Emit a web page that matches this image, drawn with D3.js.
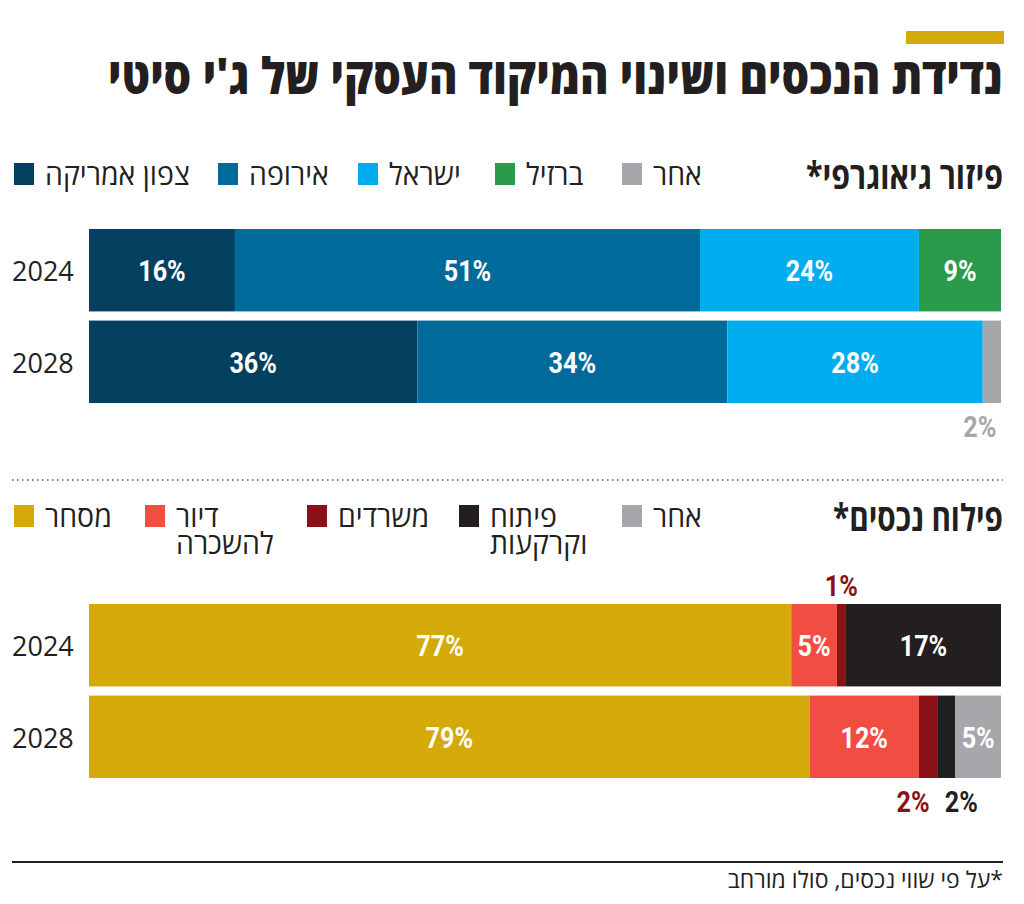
<!DOCTYPE html>
<html lang="he">
<head>
<meta charset="utf-8">
<script src="https://cdn.jsdelivr.net/npm/d3@7"></script>
<style>
  html, body { margin: 0; padding: 0; background: #fff; }
  svg { display: block; }
  .heb { font-family: "Open Sans", "Noto Sans", "DejaVu Sans", sans-serif; }
  .num { font-family: "Roboto", "Liberation Sans", sans-serif; font-weight: bold; }
</style>
</head>
<body>
<svg id="chart" width="1024" height="904"></svg>
<script>
// ---- Data ----
const years = ["2024", "2028"];

const geoCategories = ["צפון אמריקה", "אירופה", "ישראל", "ברזיל", "אחר"];
const geoColors = ["#033f5e", "#006b9b", "#00adee", "#2a9a4b", "#a6a7ab"];
const geo2024 = [16, 51, 24, 9, 0];
const geo2028 = [36, 34, 28, 0, 2];

const assetCategories = ["מסחר", "דיור\nלהשכרה", "משרדים", "פיתוח\nוקרקעות", "אחר"];
const assetColors = ["#d4a90a", "#f24d42", "#8c1116", "#231f20", "#a6a7ab"];
const asset2024 = [77, 5, 1, 17, 0];
const asset2028 = [79, 12, 2, 2, 5];

const title = "נדידת הנכסים ושינוי המיקוד העסקי של ג'י סיטי";
const geoHeading = "פיזור גיאוגרפי*";
const assetHeading = "פילוח נכסים*";
const footnote = "*על פי שווי נכסים, סולו מורחב";

// ---- Layout ----
const svg = d3.select("#chart");
const x = d3.scaleLinear().domain([0, 100]).range([89, 1001]);
const INK = "#231f20";
const RLM = "\u200F";

// condensed text helper: horizontal squeeze around anchor
function ctext(parent, px, py, str, opt) {
  const g = parent.append("g");
  const t = g.append("text").attr("class", opt.cls)
    .attr("font-size", opt.size).attr("fill", opt.fill || INK)
    .attr("text-anchor", opt.anchor || "start");
  if (opt.weight) t.attr("font-weight", opt.weight);
  const lines = String(str).split("\n");
  if (lines.length === 1) t.text(str);
  else lines.forEach((ln, k) => t.append("tspan").attr("x", 0).attr("dy", k ? opt.lh : 0).text(ln));
  let sx = opt.sx || 1;
  if (opt.fit) sx = opt.fit / t.node().getComputedTextLength();
  g.attr("transform", `translate(${px},${py}) scale(${sx},1)`);
  return t;
}

// title
svg.append("rect").attr("x", 906).attr("y", 31).attr("width", 98).attr("height", 13).attr("fill", "#d4a90a");
ctext(svg, 1003, 94, title, { cls: "heb", size: 50, weight: 800, anchor: "end", fit: 895 });

function legend(y, heading, cats, colors, itemX, headW) {
  ctext(svg, 1003, y + 15, heading + RLM, { cls: "heb", size: 37, weight: 700, anchor: "end", fit: headW });
  cats.forEach((c, i) => {
    const sx = itemX[i];
    svg.append("rect").attr("x", sx).attr("y", y - 11).attr("width", 20).attr("height", 22).attr("fill", colors[i]);
    ctext(svg, sx + 31, y + 11, c, { cls: "heb", size: 30, sx: 0.95, lh: 27 });
  });
}

function stacked(yTop, data, colors, outside) {
  const yb = d3.scaleBand().domain(years).range([yTop, yTop + 174]).paddingInner(0.1);
  data.forEach((vals, r) => {
    const yr = years[r];
    const y0 = yb(yr), bh = yb.bandwidth();
    const g = svg.append("g");
    let cum = 0;
    vals.forEach((v, i) => {
      const x0 = x(cum), x1 = x(cum + v);
      cum += v;
      if (v <= 0) return;
      g.append("rect").attr("x", x0).attr("y", y0).attr("width", x1 - x0).attr("height", bh)
        .attr("fill", colors[i]);
      const o = outside[r + "-" + i];
      if (o) {
        ctext(svg, (x0 + x1) / 2 + (o.dx || 0), o.above ? y0 - 8 : y0 + bh + 34, v + "%",
          { cls: "num", size: 30, sx: 0.84, anchor: "middle", fill: o.color });
      } else {
        ctext(g, (x0 + x1) / 2, y0 + bh / 2 + 11, v + "%",
          { cls: "num", size: 30, sx: 0.84, anchor: "middle", fill: "#fff" });
      }
    });
    ctext(svg, 12, y0 + bh / 2 + 11, yr, { cls: "heb", size: 27 });
  });
}

legend(174, geoHeading, geoCategories, geoColors, [14, 218, 358, 495, 622], 197);
stacked(229, [geo2024, geo2028], geoColors, { "1-4": { color: "#a6a7ab", dx: -12 } });

// dotted separator
svg.append("line").attr("x1", 12).attr("x2", 1003).attr("y1", 480).attr("y2", 480)
  .attr("stroke", "#555").attr("stroke-width", 1.5).attr("stroke-dasharray", "1.5,3.5");

legend(516, assetHeading, assetCategories, assetColors, [14, 145, 307, 459, 622], 170);
stacked(604, [asset2024, asset2028], assetColors, {
  "0-2": { color: "#8c1116", above: true },
  "1-2": { color: "#8c1116", dx: -15 },
  "1-3": { color: INK, dx: 15 }
});

// footer
svg.append("line").attr("x1", 12).attr("x2", 1003).attr("y1", 862).attr("y2", 862)
  .attr("stroke", INK).attr("stroke-width", 2);
ctext(svg, 1003, 888, RLM + footnote, { cls: "heb", size: 23, anchor: "end" });
</script>
</body>
</html>
